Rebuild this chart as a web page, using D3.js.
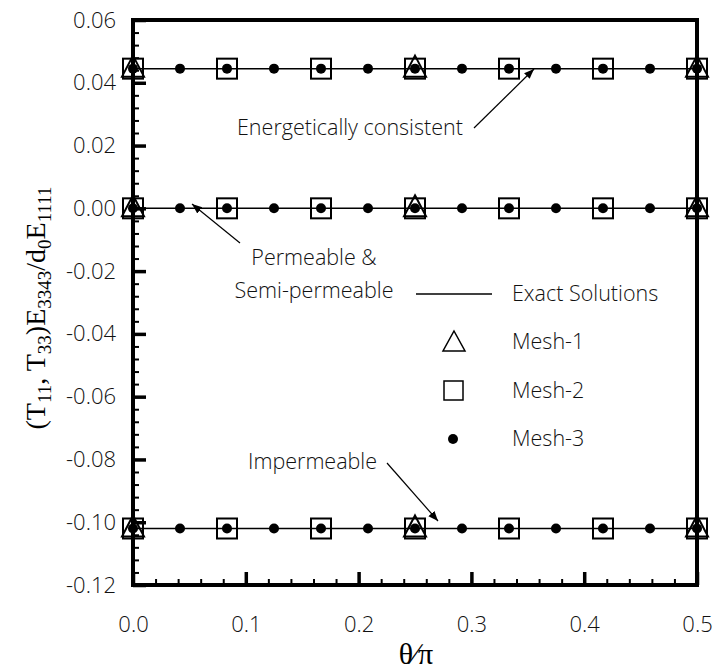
<!DOCTYPE html>
<html>
  <head>
    <meta charset="utf-8">
    <script src="https://d3js.org/d3.v7.min.js"></script>
    <style type="text/css">
      body { margin: 0; background: #fff; }
      svg { display: block; }
      .tick text { font-family: "Open Sans", sans-serif; font-weight: 300; font-size: 22px; fill: #111; }
      .lab { font-family: "Open Sans", sans-serif; font-weight: 300; font-size: 21.5px; fill: #111; }
      .serif { font-family: "Liberation Serif", "DejaVu Serif", serif; fill: #000; }
    </style>
  </head>
  <body>
    <div id="chart"></div>
    <script type="text/javascript">
      // values
      var levels = [0.0445, 0.0, -0.102];          // exact solution lines
      var mesh1X = [0, 0.25, 0.5];                  // triangles
      var mesh2X = [0, 1/12, 2/12, 3/12, 4/12, 5/12, 6/12]; // squares
      var mesh3X = [0, 1/24, 2/24, 3/24, 4/24, 5/24, 6/24, 7/24, 8/24, 9/24, 10/24, 11/24, 12/24]; // dots
      var xTicks = [0, 0.1, 0.2, 0.3, 0.4, 0.5];
      var yTicks = [0.06, 0.04, 0.02, 0, -0.02, -0.04, -0.06, -0.08, -0.10, -0.12];

      var width = 715, height = 672,
          margin = {top: 20, right: 18, bottom: 87, left: 133},
          w = width - margin.left - margin.right,
          h = height - margin.top - margin.bottom;

      var svg = d3.select("#chart").append("svg")
          .attr("width", width)
          .attr("height", height);

      var g = svg.append("g")
          .attr("transform", "translate(" + margin.left + "," + margin.top + ")");

      var x = d3.scaleLinear().domain([0, 0.5]).range([0, w]);
      var y = d3.scaleLinear().domain([-0.12, 0.06]).range([h, 0]);

      // plain hyphen for negatives, like the original
      var fmtY = function(d) { return d3.format(".2f")(d).replace("\u2212", "-"); };

      // minor ticks
      g.append("g")
        .attr("transform", "translate(0," + h + ")")
        .call(d3.axisBottom(x).tickValues(d3.range(0, 0.5001, 0.02)).tickSize(-6).tickFormat(""))
        .call(function(s) { s.select(".domain").remove(); s.selectAll("line").attr("stroke-width", 2); });
      g.append("g")
        .call(d3.axisLeft(y).tickValues(d3.range(-0.12, 0.0601, 0.004)).tickSize(-6).tickFormat(""))
        .call(function(s) { s.select(".domain").remove(); s.selectAll("line").attr("stroke-width", 2); });

      // major ticks with labels
      g.append("g")
        .attr("transform", "translate(0," + h + ")")
        .call(d3.axisBottom(x).tickValues(xTicks).tickSize(-13).tickPadding(31).tickFormat(d3.format(".1f")))
        .call(function(s) { s.select(".domain").remove(); s.selectAll("line").attr("stroke-width", 3.5); });
      g.append("g")
        .call(d3.axisLeft(y).tickValues(yTicks).tickSize(-13).tickPadding(17).tickFormat(fmtY))
        .call(function(s) { s.select(".domain").remove(); s.selectAll("line").attr("stroke-width", 3.5); });

      // frame
      g.append("rect")
        .attr("width", w).attr("height", h)
        .attr("fill", "none").attr("stroke", "#000").attr("stroke-width", 4);

      // exact solutions
      levels.forEach(function(v) {
        g.append("line")
          .attr("x1", x(0)).attr("x2", x(0.5))
          .attr("y1", y(v)).attr("y2", y(v))
          .attr("stroke", "#000").attr("stroke-width", 1.5);
      });

      var tri = "M0,-13L11,8L-11,8Z";

      levels.forEach(function(v) {
        g.selectAll(null).data(mesh2X).enter().append("rect")
          .attr("x", function(d) { return x(d) - 10; })
          .attr("y", y(v) - 10)
          .attr("width", 20).attr("height", 20)
          .attr("fill", "none").attr("stroke", "#000").attr("stroke-width", 2);
        g.selectAll(null).data(mesh1X).enter().append("path")
          .attr("d", tri)
          .attr("transform", function(d) { return "translate(" + x(d) + "," + y(v) + ")"; })
          .attr("fill", "none").attr("stroke", "#000").attr("stroke-width", 2);
        g.selectAll(null).data(mesh3X).enter().append("circle")
          .attr("cx", function(d) { return x(d); })
          .attr("cy", y(v))
          .attr("r", 5).attr("fill", "#000");
      });

      // legend
      var lg = svg.append("g");
      lg.append("line").attr("x1", 416).attr("x2", 492).attr("y1", 294).attr("y2", 294)
        .attr("stroke", "#000").attr("stroke-width", 1.5);
      lg.append("path").attr("d", "M0,-11L11,9L-11,9Z").attr("transform", "translate(454,342)")
        .attr("fill", "none").attr("stroke", "#000").attr("stroke-width", 1.5);
      lg.append("rect").attr("x", 444).attr("y", 381).attr("width", 19).attr("height", 19)
        .attr("fill", "none").attr("stroke", "#000").attr("stroke-width", 1.5);
      lg.append("circle").attr("cx", 453).attr("cy", 439).attr("r", 5).attr("fill", "#000");
      var legendText = ["Exact Solutions", "Mesh-1", "Mesh-2", "Mesh-3"];
      lg.selectAll("text").data(legendText).enter().append("text")
        .attr("class", "lab")
        .attr("x", 512)
        .attr("y", function(d, i) { return 293 + i * 48.5; })
        .attr("dy", "0.35em")
        .text(function(d) { return d; });

      // annotations
      svg.append("defs").append("marker")
        .attr("id", "arr").attr("viewBox", "0 0 10 10")
        .attr("refX", 10).attr("refY", 5)
        .attr("markerWidth", 10).attr("markerHeight", 10)
        .attr("markerUnits", "userSpaceOnUse")
        .attr("orient", "auto")
        .append("path").attr("d", "M0,1L10,5L0,9Z").attr("fill", "#000");

      var notes = [
        {t: ["Energetically consistent"], tx: 237, ty: 127, anchor: "start", a: [474, 128, 534, 69]},
        {t: ["Permeable &", "Semi-permeable"], tx: 314, ty: 257, anchor: "middle", a: [240, 243, 192, 204]},
        {t: ["Impermeable"], tx: 248, ty: 461, anchor: "start", a: [387, 463, 438, 521]}
      ];
      notes.forEach(function(n) {
        n.t.forEach(function(s, i) {
          svg.append("text").attr("class", "lab")
            .attr("x", n.tx).attr("y", n.ty + i * 33).attr("dy", "0.35em")
            .attr("text-anchor", n.anchor).text(s);
        });
        svg.append("line")
          .attr("x1", n.a[0]).attr("y1", n.a[1]).attr("x2", n.a[2]).attr("y2", n.a[3])
          .attr("stroke", "#000").attr("stroke-width", 1.2)
          .attr("marker-end", "url(#arr)");
      });

      // axis titles
      var yt = svg.append("text").attr("class", "serif")
        .attr("transform", "translate(45,308) rotate(-90)")
        .attr("text-anchor", "middle")
        .style("font-size", "28px");
      yt.append("tspan").text("(T");
      yt.append("tspan").attr("dy", 6).style("font-size", "19px").text("11");
      yt.append("tspan").attr("dy", -6).text(", T");
      yt.append("tspan").attr("dy", 6).style("font-size", "19px").text("33");
      yt.append("tspan").attr("dy", -6).text(")E");
      yt.append("tspan").attr("dy", 6).style("font-size", "19px").text("3343");
      yt.append("tspan").attr("dy", -6).text("/d");
      yt.append("tspan").attr("dy", 6).style("font-size", "19px").text("0");
      yt.append("tspan").attr("dy", -6).text("E");
      yt.append("tspan").attr("dy", 6).style("font-size", "19px").text("1111");

      svg.append("text").attr("class", "serif")
        .attr("x", 416).attr("y", 664)
        .attr("text-anchor", "middle")
        .style("font-size", "30px")
        .text("θ∕π");
    </script>
  </body>
</html>
